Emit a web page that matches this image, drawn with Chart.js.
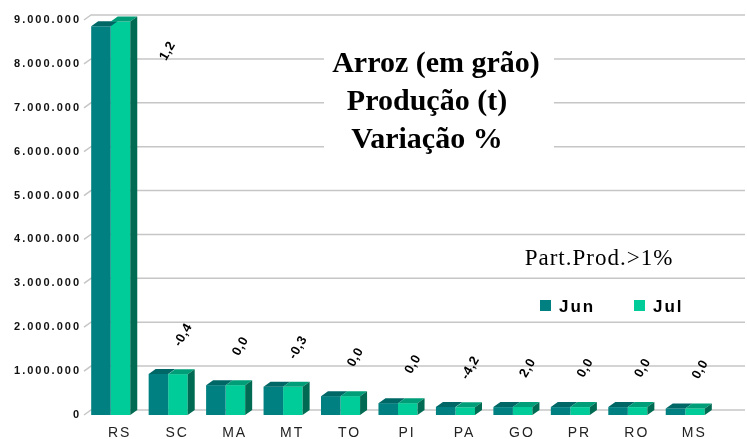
<!DOCTYPE html>
<html>
<head>
<meta charset="utf-8">
<script src="https://cdn.jsdelivr.net/npm/chart.js@4.4.1/dist/chart.umd.min.js"></script>
<style>
  html, body { margin: 0; padding: 0; background: #ffffff; }
  #wrap { width: 747px; height: 439px; position: relative; }
</style>
</head>
<body>
<div id="wrap"><canvas id="c" width="747" height="439"></canvas></div>
<script>
// ---- data ----
const categories = ['RS', 'SC', 'MA', 'MT', 'TO', 'PI', 'PA', 'GO', 'PR', 'RO', 'MS'];
const seriesNames = ['Jun', 'Jul'];
const junValues = [8860000, 935000, 680000, 645000, 430000, 270000, 185000, 180000, 180000, 180000, 150000];
const julValues = [8966000, 931000, 680000, 643000, 430000, 270000, 177000, 184000, 180000, 180000, 150000];
const variationLabels = ['1,2', '-0,4', '0,0', '-0,3', '0,0', '0,0', '-4,2', '2,0', '0,0', '0,0', '0,0'];
const yTickValues = [0, 1000000, 2000000, 3000000, 4000000, 5000000, 6000000, 7000000, 8000000, 9000000];
const titleLines = ['Arroz (em grão)', 'Produção (t)', 'Variação %'];
const noteText = 'Part.Prod.>1%';

// ---- styles ----
const frontColors = ['#008080', '#00CC99'];
const topColors = ['#006767', '#009E78'];
const sideColor = '#006B52';
const DX = 7, DY = 5;

function fmt(v) {
  return String(Math.round(v)).replace(/\B(?=(\d{3})+(?!\d))/g, '.');
}

const excel3d = {
  id: 'excel3d',
  beforeDraw(chart) {
    chart.ctx.letterSpacing = '2px';
  },
  beforeDatasetsDraw(chart) {
    const { ctx, chartArea: a, scales: { y } } = chart;
    ctx.save();
    ctx.letterSpacing = '0px';
    ctx.strokeStyle = '#c6c6c6';
    ctx.lineWidth = 1.5;
    yTickValues.forEach(v => {
      const py = y.getPixelForValue(v);
      ctx.beginPath();
      ctx.moveTo(a.left + 2, py);
      ctx.lineTo(a.left + 2 + DX, py - DY);
      ctx.lineTo(chart.width - 2, py - DY);
      ctx.stroke();
    });
    ctx.fillStyle = '#ffffff';
    ctx.fillRect(324, 44, 230, 113);
    ctx.restore();
  },
  afterDatasetsDraw(chart) {
    const { ctx, chartArea: a } = chart;
    const m0 = chart.getDatasetMeta(0).data;
    const m1 = chart.getDatasetMeta(1).data;
    ctx.save();
    [m0, m1].forEach((bars, di) => {
      bars.forEach(b => {
        const l = b.x - b.width / 2, r = b.x + b.width / 2;
        ctx.fillStyle = topColors[di];
        ctx.beginPath();
        ctx.moveTo(l, b.y);
        ctx.lineTo(l + DX, b.y - DY);
        ctx.lineTo(r + DX, b.y - DY);
        ctx.lineTo(r, b.y);
        ctx.closePath();
        ctx.fill();
        if (di === 1) {
          ctx.fillStyle = sideColor;
          ctx.beginPath();
          ctx.moveTo(r, b.y);
          ctx.lineTo(r + DX, b.y - DY);
          ctx.lineTo(r + DX, b.base - DY);
          ctx.lineTo(r, b.base);
          ctx.closePath();
          ctx.fill();
        }
      });
    });
    ctx.letterSpacing = '0.5px';
    ctx.fillStyle = '#000000';
    ctx.font = 'bold 13px "Liberation Sans", Arial, sans-serif';
    ctx.textAlign = 'center';
    ctx.textBaseline = 'middle';
    variationLabels.forEach((t, i) => {
      const cx = (m0[i].x + m1[i].x) / 2;
      let x = cx + 15;
      let yy = Math.min(m0[i].y, m1[i].y) - 39;
      if (yy < a.top + 30) { yy = a.top + 31; x += 42; }
      ctx.save();
      ctx.translate(x, yy);
      ctx.rotate(-Math.PI / 3);
      ctx.fillText(t, 0, 0);
      ctx.restore();
    });
    ctx.restore();
  },
  afterDraw(chart) {
    const { ctx } = chart;
    ctx.save();
    ctx.letterSpacing = '0px';
    ctx.fillStyle = '#000000';
    ctx.textBaseline = 'alphabetic';
    ctx.textAlign = 'center';
    ctx.font = 'bold 30px "Liberation Serif", "Times New Roman", serif';
    ctx.fillText(titleLines[0], 436, 72);
    ctx.fillText(titleLines[1], 427, 110);
    ctx.fillText(titleLines[2], 427, 148);
    ctx.letterSpacing = '1px';
    ctx.font = '23px "Liberation Serif", "Times New Roman", serif';
    ctx.fillText(noteText, 599, 265);
    ctx.textAlign = 'left';
    ctx.letterSpacing = '2px';
    ctx.font = 'bold 17px "Liberation Sans", Arial, sans-serif';
    const legendX = [540, 634];
    chart.data.datasets.forEach((ds, i) => {
      ctx.fillStyle = frontColors[i];
      ctx.fillRect(legendX[i], 300, 11, 11);
      ctx.fillStyle = '#000000';
      ctx.fillText(ds.label, legendX[i] + 19, 312);
    });
    ctx.restore();
  }
};

new Chart(document.getElementById('c'), {
  type: 'bar',
  data: {
    labels: categories,
    datasets: [
      { label: seriesNames[0], data: junValues, backgroundColor: frontColors[0], borderWidth: 0 },
      { label: seriesNames[1], data: julValues, backgroundColor: frontColors[1], borderWidth: 0 }
    ]
  },
  options: {
    responsive: false,
    animation: false,
    devicePixelRatio: 1,
    layout: { padding: { top: 20, right: 33, left: 0, bottom: 0 } },
    datasets: { bar: { categoryPercentage: 0.68, barPercentage: 1.0 } },
    plugins: { legend: { display: false }, title: { display: false }, tooltip: { enabled: false } },
    scales: {
      x: {
        grid: { display: false, drawTicks: false },
        border: { display: false },
        ticks: {
          color: '#222222',
          font: { family: '"Liberation Sans", Arial, sans-serif', size: 14 },
          padding: 10,
          labelOffset: 9,
          maxRotation: 0,
          autoSkip: false
        },
        afterFit(scale) { scale.height = 24; }
      },
      y: {
        min: 0,
        max: 9000000,
        afterBuildTicks(scale) { scale.ticks = yTickValues.map(v => ({ value: v })); },
        grid: { display: false, drawTicks: false },
        border: { display: false },
        ticks: {
          color: '#111111',
          font: { family: '"Liberation Sans", Arial, sans-serif', size: 11, weight: 'bold' },
          padding: 1,
          callback: v => fmt(v)
        },
        afterFit(scale) { scale.width = 82; }
      }
    }
  },
  plugins: [excel3d]
});
</script>
</body>
</html>
